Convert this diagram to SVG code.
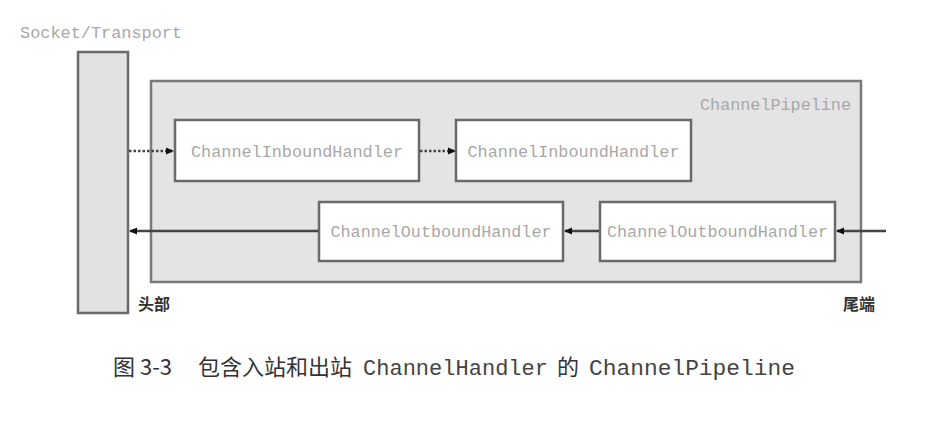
<svg xmlns="http://www.w3.org/2000/svg" width="935" height="428" viewBox="0 0 935 428">
<style>
.mono{font-family:"Liberation Mono","DejaVu Sans Mono",monospace;fill:#a8a8a8;font-size:16px}
.box{fill:#ffffff;stroke:#6a6a6a;stroke-width:2.5}
.cjk{font-family:"Liberation Serif","Noto Sans CJK SC",serif;fill:#333;font-weight:bold;font-size:16px}
.line{stroke:#444;stroke-width:2.5;fill:none}
.dot{stroke:#444;stroke-width:2.5;fill:none;stroke-dasharray:2.5 2}
</style>
<defs>
<marker id="ah" markerWidth="8" markerHeight="8" refX="7" refY="4" orient="auto" markerUnits="userSpaceOnUse">
<path d="M0,0.5 L8,4 L0,7.5 Z" fill="#111"/>
</marker>
</defs>
<rect width="935" height="428" fill="#fff"/>
<g id="socket">
<rect x="78" y="52" width="50" height="261" fill="#e2e2e2" stroke="#6a6a6a" stroke-width="2.5"/>
<text class="mono" x="20" y="38" textLength="162" lengthAdjust="spacingAndGlyphs">Socket/Transport</text>
</g>
<g id="pipeline">
<rect x="151" y="81" width="710" height="201" fill="#e4e4e4" stroke="#7a7a7a" stroke-width="2.5"/>
<text class="mono" x="851" y="110" text-anchor="end" textLength="151" lengthAdjust="spacingAndGlyphs">ChannelPipeline</text>
</g>
<g id="in1">
<rect class="box" x="175" y="120" width="244" height="61"/>
<text class="mono" x="297" y="157" text-anchor="middle" textLength="212" lengthAdjust="spacingAndGlyphs">ChannelInboundHandler</text>
</g>
<g id="in2">
<rect class="box" x="456" y="120" width="235" height="61"/>
<text class="mono" x="573.5" y="157" text-anchor="middle" textLength="212" lengthAdjust="spacingAndGlyphs">ChannelInboundHandler</text>
</g>
<g id="out1">
<rect class="box" x="319" y="202" width="244" height="59"/>
<text class="mono" x="441" y="237" text-anchor="middle" textLength="221" lengthAdjust="spacingAndGlyphs">ChannelOutboundHandler</text>
</g>
<g id="out2">
<rect class="box" x="600" y="202" width="235" height="59"/>
<text class="mono" x="717.5" y="237" text-anchor="middle" textLength="221" lengthAdjust="spacingAndGlyphs">ChannelOutboundHandler</text>
</g>
<g id="connectors">
<line class="dot" x1="129" y1="151" x2="173" y2="151" marker-end="url(#ah)"/>
<line class="dot" x1="420" y1="151" x2="455" y2="151" marker-end="url(#ah)"/>
<line class="line" x1="886" y1="231" x2="837" y2="231" marker-end="url(#ah)"/>
<line class="line" x1="599" y1="231" x2="565" y2="231" marker-end="url(#ah)"/>
<line class="line" x1="318" y1="231" x2="130" y2="231" marker-end="url(#ah)"/>
</g>
<g id="labels">
<text class="cjk" x="138" y="310">头部</text>
<text class="cjk" x="843" y="310">尾端</text>
</g>
<g id="caption">
<text x="113" y="375" font-family="'Noto Sans CJK SC',sans-serif" font-size="22" fill="#333">图 3-3</text>
<text x="198" y="375" font-family="'Noto Sans CJK SC',sans-serif" font-size="22" fill="#333">包含入站和出站</text>
<text x="363" y="375" font-family="'Liberation Mono',monospace" font-size="22" fill="#444" textLength="185" lengthAdjust="spacingAndGlyphs">ChannelHandler</text>
<text x="557" y="375" font-family="'Noto Sans CJK SC',sans-serif" font-size="22" fill="#333">的</text>
<text x="589" y="375" font-family="'Liberation Mono',monospace" font-size="22" fill="#444" textLength="206" lengthAdjust="spacingAndGlyphs">ChannelPipeline</text>
</g>
</svg>
